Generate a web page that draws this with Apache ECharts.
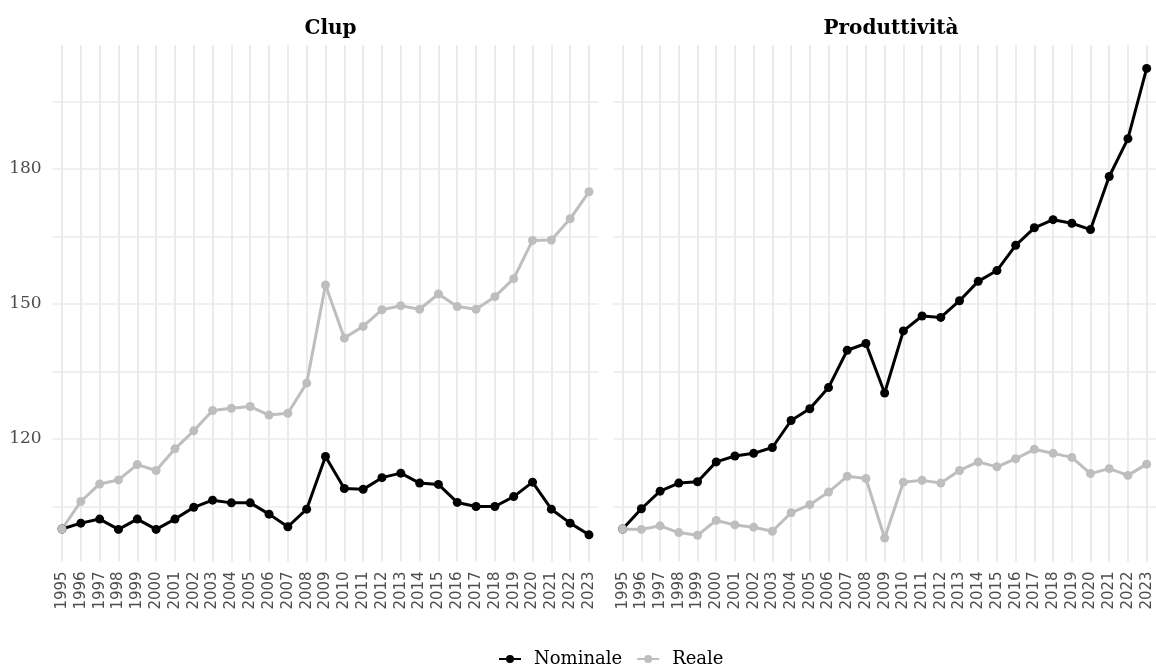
<!DOCTYPE html>
<html>
<head>
<meta charset="utf-8">
<script src="https://cdn.jsdelivr.net/npm/echarts@6/dist/echarts.min.js"></script>
<style>
  html, body { margin: 0; padding: 0; background: #fff; }
  #chart { width: 1156px; height: 668px; }
</style>
</head>
<body>
<div id="chart"></div>
<script>
// anni (categorie)
const years = ['1995', '1996', '1997', '1998', '1999', '2000', '2001', '2002', '2003', '2004',
  '2005', '2006', '2007', '2008', '2009', '2010', '2011', '2012', '2013', '2014',
  '2015', '2016', '2017', '2018', '2019', '2020', '2021', '2022', '2023']

// Clup
const clupNominale = [100, 101.3, 102.2, 99.9, 102.2, 99.9, 102.2, 104.8, 106.4, 105.8,
  105.8, 103.3, 100.5, 104.4, 116.1, 109.0, 108.8, 111.4, 112.4, 110.2,
  109.9, 105.9, 105.0, 105.0, 107.2, 110.4, 104.4, 101.3, 98.7]
const clupReale = [100, 106.1, 110.0, 110.9, 114.3, 113.0, 117.8, 121.8, 126.3, 126.8,
  127.2, 125.3, 125.7, 132.4, 154.2, 142.4, 145.0, 148.7, 149.6, 148.8,
  152.2, 149.4, 148.8, 151.6, 155.6, 164.1, 164.2, 168.9, 174.9]

// Produttività
const prodNominale = [100, 104.5, 108.4, 110.2, 110.5, 114.9, 116.2, 116.8, 118.1, 124.1,
  126.7, 131.4, 139.7, 141.2, 130.2, 144.0, 147.3, 147.0, 150.7, 155.0,
  157.4, 163.0, 166.9, 168.7, 167.9, 166.5, 178.3, 186.7, 202.3]
const prodReale = [100, 99.9, 100.7, 99.2, 98.6, 101.9, 100.9, 100.4, 99.5, 103.6,
  105.4, 108.2, 111.7, 111.2, 98.0, 110.4, 110.8, 110.2, 113.0, 114.9,
  113.8, 115.6, 117.7, 116.8, 115.9, 112.3, 113.4, 111.9, 114.4]

// tick asse y
const yLabelValues = [120, 150, 180]
const yGridValues = [105, 120, 135, 150, 165, 180, 195]

const panelTitles = ['Clup', 'Produttività']
const colNominale = '#000000'
const colReale = '#bebebe'
const gridColor = '#ebebeb'
const serifFont = 'DejaVu Serif'

const chart = echarts.init(document.getElementById('chart'), null, { renderer: 'canvas' })

const makeXAxis = (gridIndex) => ({
  type: 'category',
  gridIndex: gridIndex,
  data: years,
  boundaryGap: true,
  axisLine: { show: false },
  axisTick: { show: false, alignWithLabel: true },
  axisLabel: {
    interval: 0,
    rotate: 90,
    margin: 10,
    color: '#4d4d4d',
    fontFamily: 'DejaVu Sans',
    fontSize: 15
  },
  splitLine: {
    show: true,
    alignWithLabel: true,
    interval: 0,
    lineStyle: { color: gridColor, width: 2 }
  }
})

const makeYAxis = (gridIndex, showLabels) => ({
  type: 'value',
  gridIndex: gridIndex,
  min: 92.8,
  max: 207.5,
  axisLine: { show: false },
  axisTick: { show: false, customValues: yGridValues },
  axisLabel: {
    show: showLabels,
    customValues: yLabelValues,
    margin: 11,
    color: '#4d4d4d',
    fontFamily: serifFont,
    fontSize: 17
  },
  splitLine: {
    show: true,
    lineStyle: { color: gridColor, width: 1.6 }
  }
})

const makeSeries = (name, data, color, idx) => ({
  name: name,
  type: 'line',
  xAxisIndex: idx,
  yAxisIndex: idx,
  data: data,
  symbol: 'circle',
  symbolSize: 9,
  showSymbol: true,
  clip: false,
  itemStyle: { color: color },
  lineStyle: { color: color, width: 3 },
  emphasis: { disabled: true }
})

const option = {
  animation: false,
  backgroundColor: '#ffffff',
  title: panelTitles.map((t, i) => ({
    text: t,
    left: i === 0 ? 325.5 : 886,
    top: 14,
    textAlign: 'center',
    textStyle: {
      fontFamily: serifFont,
      fontWeight: 'bold',
      fontSize: 20,
      color: '#000'
    }
  })),
  grid: [
    { left: 52.6, top: 45, width: 545.8, height: 516.4 },
    { left: 613.3, top: 45, width: 545.8, height: 516.4 }
  ],
  xAxis: [makeXAxis(0), makeXAxis(1)],
  yAxis: [makeYAxis(0, true), makeYAxis(1, false)],
  legend: {
    data: ['Nominale', 'Reale'],
    left: 493,
    top: 645,
    itemWidth: 22,
    itemHeight: 10,
    itemGap: 14,
    textStyle: {
      fontFamily: serifFont,
      fontSize: 18,
      color: '#000',
      padding: [0, 0, 0, 8]
    }
  },
  series: [
    makeSeries('Nominale', clupNominale, colNominale, 0),
    makeSeries('Reale', clupReale, colReale, 0),
    makeSeries('Nominale', prodNominale, colNominale, 1),
    makeSeries('Reale', prodReale, colReale, 1)
  ]
}

chart.setOption(option)
</script>
</body>
</html>
